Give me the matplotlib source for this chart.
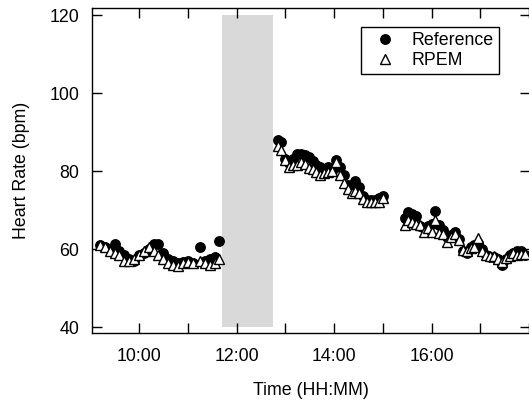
import matplotlib
matplotlib.use("Agg")
import matplotlib.pyplot as plt
from matplotlib.ticker import FixedLocator, MultipleLocator, FuncFormatter

plt.rcParams['font.family'] = ['Liberation Sans', 'DejaVu Sans']

# time in hours of the day
t_seg1 = [9.20, 9.30, 9.40, 9.50, 9.60, 9.70, 9.80, 9.90, 10.00, 10.10, 10.20, 10.30,
          10.40, 10.50, 10.60, 10.70, 10.80, 10.90, 11.00, 11.10, 11.25, 11.35, 11.45,
          11.55, 11.65]
ref_seg1 = [61.0, 60.5, 60.0, 61.3, 59.5, 58.5, 57.5, 57.0, 58.5, 59.0, 60.0, 61.3,
            61.3, 59.0, 57.5, 57.0, 56.5, 56.7, 57.0, 56.5, 60.5, 57.0, 57.5, 58.0, 62.0]
rpem_seg1 = [61.0, 60.5, 59.5, 59.0, 58.5, 57.0, 57.0, 57.5, 58.5, 59.5, 60.5, 59.5,
             58.5, 57.5, 56.5, 56.0, 55.8, 56.5, 56.8, 56.5, 57.0, 56.5, 56.0, 56.5, 57.5]

t_seg2 = [12.85, 12.92, 13.00, 13.08, 13.16, 13.24, 13.32, 13.40, 13.48, 13.56, 13.64,
          13.72, 13.80, 13.88, 13.96, 14.04, 14.12, 14.20, 14.28, 14.36, 14.44, 14.52,
          14.60, 14.68, 14.76, 14.84, 14.92, 15.00]
ref_seg2 = [88.0, 87.5, 83.0, 82.0, 83.0, 84.3, 84.5, 84.0, 83.5, 82.5, 81.5,
            81.0, 80.5, 81.0, 80.0, 82.8, 81.0, 79.0, 76.5, 75.0, 77.5, 76.0,
            73.5, 72.5, 72.5, 72.5, 73.0, 73.5]
rpem_seg2 = [86.5, 85.5, 82.8, 81.0, 81.5, 81.5, 82.3, 81.8, 80.8, 80.5, 79.7,
             79.0, 79.5, 79.7, 80.0, 82.3, 79.0, 77.0, 75.5, 74.5, 75.0, 74.5,
             72.8, 72.0, 72.0, 72.0, 72.2, 73.0]

t_seg3 = [15.46, 15.52, 15.60, 15.68, 15.76, 15.84, 15.92, 16.00, 16.08, 16.16, 16.24,
          16.32, 16.40, 16.48, 16.56, 16.64, 16.72, 16.80, 16.88, 16.96, 17.04, 17.12,
          17.20, 17.28, 17.36, 17.44, 17.52, 17.60, 17.68, 17.76, 17.84, 17.92]
ref_seg3 = [68.0, 69.5, 69.0, 68.5, 66.0, 65.5, 66.0, 66.5, 69.8, 66.2, 65.0,
            63.0, 63.5, 64.5, 62.5, 59.5, 59.0, 60.5, 61.0, 61.5, 60.0, 58.5,
            58.0, 58.0, 57.5, 55.9, 57.5, 58.5, 59.0, 59.5, 59.5, 58.5]
rpem_seg3 = [66.2, 67.4, 67.0, 66.5, 66.3, 64.4, 65.5, 64.5, 67.5, 64.2, 63.8,
             61.8, 63.0, 63.8, 62.3, 59.7, 59.5, 60.3, 60.5, 62.8, 59.5, 58.5,
             58.3, 58.2, 57.5, 56.7, 57.8, 58.3, 59.0, 58.5, 58.7, 58.7]

# excluded interval (gray band)
gap_start, gap_end = 11.71, 12.745
gap_low, gap_high = 40, 120

x_labels_at = [10, 12, 14, 16]

times = t_seg1 + t_seg2 + t_seg3
ref = ref_seg1 + ref_seg2 + ref_seg3
rpem = rpem_seg1 + rpem_seg2 + rpem_seg3


def hhmm(x, pos):
    h = int(round(x * 60)) // 60
    m = int(round(x * 60)) % 60
    return f"{h:d}:{m:02d}"


fig = plt.figure(figsize=(5.29, 4.01), dpi=100)
ax = fig.add_axes([92 / 529, 1 - 333 / 401, 438 / 529, 325 / 401])

ax.fill_between([gap_start, gap_end], gap_low, gap_high, color='#d9d9d9', linewidth=0, zorder=1)

ax.plot(times, ref, linestyle='none', marker='o', markersize=6.8, color='black',
        label='Reference', zorder=2)
ax.plot(times, rpem, linestyle='none', marker='^', markersize=7.5, markerfacecolor='white',
        markeredgecolor='black', markeredgewidth=1.0, label='RPEM', zorder=3)

ax.set_xlim(9.036, 18.02)
ax.set_ylim(38.5, 121.8)
ax.set_yticks([40, 60, 80, 100, 120])
ax.xaxis.set_major_locator(FixedLocator(x_labels_at))
ax.xaxis.set_minor_locator(MultipleLocator(1))
ax.xaxis.set_major_formatter(FuncFormatter(hhmm))

ax.tick_params(axis='both', which='both', direction='in', top=True, right=True,
               width=1.0, length=7, labelsize=12.8, pad=9)
ax.tick_params(axis='x', which='major', pad=11)
for s in ax.spines.values():
    s.set_linewidth(1.0)

ax.set_xlabel('Time (HH:MM)', fontsize=12.8, labelpad=12)
ax.set_ylabel('Heart Rate (bpm)', fontsize=12.8, labelpad=14)

leg = ax.legend(loc='upper right', bbox_to_anchor=(0.929, 0.9415), borderaxespad=0,
                fontsize=12.8, frameon=True, fancybox=False, edgecolor='black',
                handlelength=2.1, handletextpad=0.41, labelspacing=0.15,
                borderpad=0.3)
leg.get_frame().set_linewidth(1.0)
leg.get_frame().set_alpha(1)

fig.savefig('out.png', dpi=100)
